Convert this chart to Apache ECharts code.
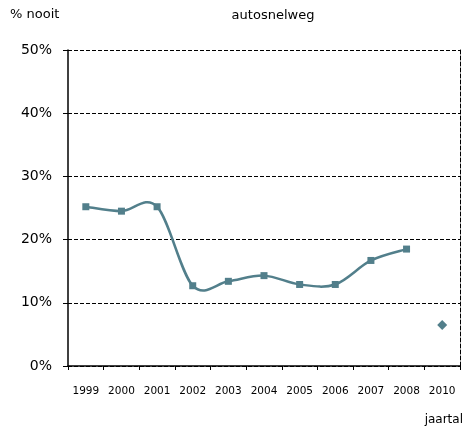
<!DOCTYPE html>
<html>
<head>
<meta charset="utf-8">
<style>
  html, body { margin: 0; padding: 0; background: #fff; }
  #chart { width: 470px; height: 432px; }
</style>
<script src="https://cdn.jsdelivr.net/npm/echarts@6/dist/echarts.min.js"></script>
</head>
<body>
<div id="chart"></div>
<script>
// Percentage "nooit" per year on the motorway
const years = ['1999', '2000', '2001', '2002', '2003', '2004', '2005', '2006', '2007', '2008', '2010'];
const trendValues = [25.2, 24.5, 25.2, 12.7, 13.4, 14.3, 12.9, 12.9, 16.7, 18.5, null];
const value2010 = [null, null, null, null, null, null, null, null, null, null, 6.5];
const yTicks = [0, 10, 20, 30, 40, 50];

const seriesColor = '#527f8b';
const font = 'DejaVu Sans, Verdana, sans-serif';

// Curve through the yearly points (Catmull-Rom style Bezier segments)
function smoothPath(pts) {
  let d = 'M' + pts[0][0] + ',' + pts[0][1];
  for (let i = 0; i < pts.length - 1; i++) {
    const p0 = pts[i - 1] || pts[i];
    const p1 = pts[i];
    const p2 = pts[i + 1];
    const p3 = pts[i + 2] || pts[i + 1];
    const c1x = p1[0] + (p2[0] - p0[0]) / 6;
    const c1y = p1[1] + (p2[1] - p0[1]) / 6;
    const c2x = p2[0] - (p3[0] - p1[0]) / 6;
    const c2y = p2[1] - (p3[1] - p1[1]) / 6;
    d += ' C' + c1x + ',' + c1y + ' ' + c2x + ',' + c2y + ' ' + p2[0] + ',' + p2[1];
  }
  return d;
}

const curveData = trendValues.map((v, i) => [i, v]).filter(d => d[1] != null);

const chart = echarts.init(document.getElementById('chart'), null, { renderer: 'canvas' });
chart.setOption({
  animation: false,
  backgroundColor: '#ffffff',
  title: {
    text: 'autosnelweg',
    left: 268, top: 4, textAlign: 'center',
    textStyle: { fontFamily: font, fontSize: 13, fontWeight: 'normal', color: '#000' }
  },
  grid: { left: 68, right: 10, top: 50, bottom: 66 },
  xAxis: {
    type: 'category',
    data: years,
    boundaryGap: true,
    name: 'jaartal',
    nameLocation: 'end',
    nameGap: 0,
    nameTextStyle: { fontFamily: font, fontSize: 12, color: '#000', align: 'right', verticalAlign: 'top', padding: [48, -3, 0, 0] },
    axisLine: { lineStyle: { color: '#000', width: 1.5 } },
    axisTick: { show: true, inside: false, length: 4, interval: 0, lineStyle: { color: '#000' } },
    axisLabel: { fontFamily: font, fontSize: 10.5, color: '#000', margin: 20, interval: 0 },
    splitLine: { show: false }
  },
  yAxis: [{
    type: 'value',
    min: yTicks[0],
    max: yTicks[yTicks.length - 1],
    interval: 10,
    name: '% nooit',
    nameLocation: 'end',
    nameGap: 29,
    nameTextStyle: { fontFamily: font, fontSize: 13, color: '#000', align: 'left', padding: [0, 0, 0, -58] },
    axisLine: { show: true, lineStyle: { color: '#000', width: 1.5 } },
    axisTick: { show: true, length: 5, lineStyle: { color: '#000' } },
    axisLabel: { fontFamily: font, fontSize: 14, color: '#000', margin: 16, formatter: '{value}%' },
    splitLine: { show: true, lineStyle: { color: '#000', type: [4, 2], width: 1 } }
  }, {
    type: 'value',
    position: 'right',
    min: yTicks[0],
    max: yTicks[yTicks.length - 1],
    interval: 10,
    axisLine: { show: true, lineStyle: { color: '#000', type: [4, 2], width: 1 } },
    axisTick: { show: false },
    axisLabel: { show: false },
    splitLine: { show: false }
  }],
  series: [{
    // smooth connecting curve
    type: 'custom',
    data: curveData,
    z: 2,
    silent: true,
    renderItem: function (params, api) {
      if (params.dataIndex !== 0) return null;
      const pts = curveData.map(d => api.coord(d));
      return {
        type: 'path',
        shape: { pathData: smoothPath(pts) },
        style: { fill: null, stroke: seriesColor, lineWidth: 2.5 }
      };
    }
  }, {
    type: 'line',
    data: trendValues,
    symbol: 'rect',
    symbolSize: 7,
    lineStyle: { width: 0 },
    itemStyle: { color: seriesColor },
    z: 3
  }, {
    type: 'line',
    data: value2010,
    symbol: 'diamond',
    symbolSize: 10,
    lineStyle: { width: 0 },
    itemStyle: { color: seriesColor },
    z: 3
  }]
});
</script>
</body>
</html>
